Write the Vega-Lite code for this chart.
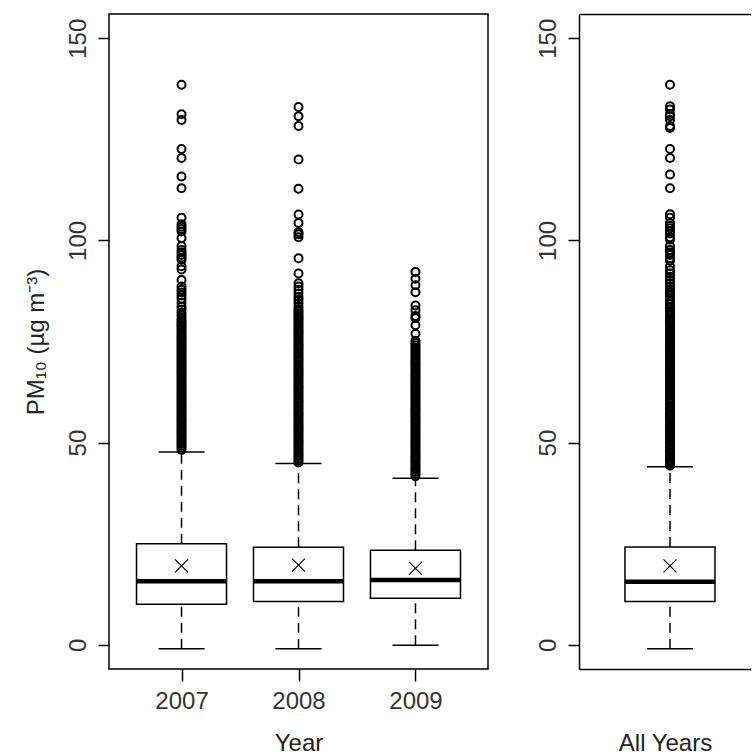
{
  "$schema": "https://vega.github.io/schema/vega-lite/v6.json",
  "padding": {"top": 13, "left": 23, "right": 0, "bottom": 0},
  "background": "white",
  "config": {
    "font": "Liberation Sans",
    "axis": {"labelFont": "Liberation Sans", "titleFont": "Liberation Sans", "labelFontSize": 24, "titleFontSize": 24, "labelColor": "#333333", "titleColor": "#222222", "titleFontWeight": "normal", "tickColor": "black", "tickWidth": 1.5, "domainColor": "black", "domainWidth": 1.5, "grid": false},
    "view": {"stroke": "black", "strokeWidth": 1.5},
    "concat": {"spacing": 47}
  },
  "datasets": {
    "boxes": [
      {"group": "2007", "lower": -1.0, "q1": 10.0, "median": 15.7, "q3": 25.0, "upper": 47.7, "mean": 19.5},
      {"group": "2008", "lower": -1.0, "q1": 10.7, "median": 15.7, "q3": 24.1, "upper": 44.8, "mean": 19.7},
      {"group": "2009", "lower": -0.1, "q1": 11.5, "median": 16.0, "q3": 23.4, "upper": 41.2, "mean": 18.9},
      {"group": "All Years", "lower": -1.0, "q1": 10.7, "median": 15.6, "q3": 24.2, "upper": 44.0, "mean": 19.5}
    ],
    "outliers": [
      {"group":"2007","pm10":138.5},{"group":"2007","pm10":131.2},{"group":"2007","pm10":129.8},{"group":"2007","pm10":122.6},{"group":"2007","pm10":120.4},{"group":"2007","pm10":115.8},{"group":"2007","pm10":112.9},{"group":"2007","pm10":105.6},{"group":"2007","pm10":104.0},{"group":"2007","pm10":103.4},{"group":"2007","pm10":102.8},{"group":"2007","pm10":102.2},{"group":"2007","pm10":100.6},{"group":"2007","pm10":98.6},{"group":"2007","pm10":97.6},{"group":"2007","pm10":97.0},{"group":"2007","pm10":96.4},{"group":"2007","pm10":95.8},{"group":"2007","pm10":95.2},{"group":"2007","pm10":93.6},{"group":"2007","pm10":92.8},{"group":"2007","pm10":90.2},{"group":"2007","pm10":88.6},{"group":"2007","pm10":87.8},{"group":"2007","pm10":87.1},{"group":"2007","pm10":86.4},{"group":"2007","pm10":85.6},{"group":"2007","pm10":84.6},{"group":"2007","pm10":83.6},{"group":"2007","pm10":82.9},{"group":"2007","pm10":82.1},{"group":"2007","pm10":81.4},
      {"group":"2007","pm10":80.6},{"group":"2007","pm10":80.1},{"group":"2007","pm10":79.6},{"group":"2007","pm10":79.1},{"group":"2007","pm10":78.7},{"group":"2007","pm10":78.2},{"group":"2007","pm10":77.7},{"group":"2007","pm10":77.2},{"group":"2007","pm10":76.7},{"group":"2007","pm10":76.2},{"group":"2007","pm10":75.8},{"group":"2007","pm10":75.3},{"group":"2007","pm10":74.8},{"group":"2007","pm10":74.3},{"group":"2007","pm10":73.8},{"group":"2007","pm10":73.3},{"group":"2007","pm10":72.9},{"group":"2007","pm10":72.4},{"group":"2007","pm10":71.9},{"group":"2007","pm10":71.4},{"group":"2007","pm10":70.9},{"group":"2007","pm10":70.4},{"group":"2007","pm10":70.0},{"group":"2007","pm10":69.5},{"group":"2007","pm10":69.0},{"group":"2007","pm10":68.5},{"group":"2007","pm10":68.0},{"group":"2007","pm10":67.5},{"group":"2007","pm10":67.1},{"group":"2007","pm10":66.6},{"group":"2007","pm10":66.1},{"group":"2007","pm10":65.6},{"group":"2007","pm10":65.1},{"group":"2007","pm10":64.6},{"group":"2007","pm10":64.2},{"group":"2007","pm10":63.7},{"group":"2007","pm10":63.2},{"group":"2007","pm10":62.7},{"group":"2007","pm10":62.2},{"group":"2007","pm10":61.7},{"group":"2007","pm10":61.3},{"group":"2007","pm10":60.8},{"group":"2007","pm10":60.3},{"group":"2007","pm10":59.8},{"group":"2007","pm10":59.3},{"group":"2007","pm10":58.8},{"group":"2007","pm10":58.4},{"group":"2007","pm10":57.9},{"group":"2007","pm10":57.4},{"group":"2007","pm10":56.9},{"group":"2007","pm10":56.4},{"group":"2007","pm10":55.9},{"group":"2007","pm10":55.5},{"group":"2007","pm10":55.0},{"group":"2007","pm10":54.5},{"group":"2007","pm10":54.0},{"group":"2007","pm10":53.5},{"group":"2007","pm10":53.0},{"group":"2007","pm10":52.6},{"group":"2007","pm10":52.1},{"group":"2007","pm10":51.6},{"group":"2007","pm10":51.1},{"group":"2007","pm10":50.6},{"group":"2007","pm10":50.1},{"group":"2007","pm10":49.7},{"group":"2007","pm10":49.2},{"group":"2007","pm10":48.7},{"group":"2007","pm10":48.2},
      {"group":"2008","pm10":133.0},{"group":"2008","pm10":130.7},{"group":"2008","pm10":128.3},{"group":"2008","pm10":120.0},{"group":"2008","pm10":112.8},{"group":"2008","pm10":106.4},{"group":"2008","pm10":104.3},{"group":"2008","pm10":102.0},{"group":"2008","pm10":101.5},{"group":"2008","pm10":100.8},{"group":"2008","pm10":95.6},{"group":"2008","pm10":91.8},{"group":"2008","pm10":89.4},{"group":"2008","pm10":88.6},{"group":"2008","pm10":87.8},{"group":"2008","pm10":86.9},{"group":"2008","pm10":86.0},{"group":"2008","pm10":85.3},{"group":"2008","pm10":84.5},{"group":"2008","pm10":83.7},
      {"group":"2008","pm10":83.0},{"group":"2008","pm10":82.5},{"group":"2008","pm10":82.0},{"group":"2008","pm10":81.5},{"group":"2008","pm10":81.0},{"group":"2008","pm10":80.6},{"group":"2008","pm10":80.1},{"group":"2008","pm10":79.6},{"group":"2008","pm10":79.1},{"group":"2008","pm10":78.6},{"group":"2008","pm10":78.1},{"group":"2008","pm10":77.6},{"group":"2008","pm10":77.2},{"group":"2008","pm10":76.7},{"group":"2008","pm10":76.2},{"group":"2008","pm10":75.7},{"group":"2008","pm10":75.2},{"group":"2008","pm10":74.7},{"group":"2008","pm10":74.2},{"group":"2008","pm10":73.8},{"group":"2008","pm10":73.3},{"group":"2008","pm10":72.8},{"group":"2008","pm10":72.3},{"group":"2008","pm10":71.8},{"group":"2008","pm10":71.3},{"group":"2008","pm10":70.8},{"group":"2008","pm10":70.4},{"group":"2008","pm10":69.9},{"group":"2008","pm10":69.4},{"group":"2008","pm10":68.9},{"group":"2008","pm10":68.4},{"group":"2008","pm10":67.9},{"group":"2008","pm10":67.4},{"group":"2008","pm10":67.0},{"group":"2008","pm10":66.5},{"group":"2008","pm10":66.0},{"group":"2008","pm10":65.5},{"group":"2008","pm10":65.0},{"group":"2008","pm10":64.5},{"group":"2008","pm10":64.0},{"group":"2008","pm10":63.6},{"group":"2008","pm10":63.1},{"group":"2008","pm10":62.6},{"group":"2008","pm10":62.1},{"group":"2008","pm10":61.6},{"group":"2008","pm10":61.1},{"group":"2008","pm10":60.6},{"group":"2008","pm10":60.2},{"group":"2008","pm10":59.7},{"group":"2008","pm10":59.2},{"group":"2008","pm10":58.7},{"group":"2008","pm10":58.2},{"group":"2008","pm10":57.7},{"group":"2008","pm10":57.2},{"group":"2008","pm10":56.8},{"group":"2008","pm10":56.3},{"group":"2008","pm10":55.8},{"group":"2008","pm10":55.3},{"group":"2008","pm10":54.8},{"group":"2008","pm10":54.3},{"group":"2008","pm10":53.8},{"group":"2008","pm10":53.4},{"group":"2008","pm10":52.9},{"group":"2008","pm10":52.4},{"group":"2008","pm10":51.9},{"group":"2008","pm10":51.4},{"group":"2008","pm10":50.9},{"group":"2008","pm10":50.4},{"group":"2008","pm10":50.0},{"group":"2008","pm10":49.5},{"group":"2008","pm10":49.0},{"group":"2008","pm10":48.5},{"group":"2008","pm10":48.0},{"group":"2008","pm10":47.5},{"group":"2008","pm10":47.0},{"group":"2008","pm10":46.6},{"group":"2008","pm10":46.1},{"group":"2008","pm10":45.6},{"group":"2008","pm10":45.1},
      {"group":"2009","pm10":92.2},{"group":"2009","pm10":90.5},{"group":"2009","pm10":88.9},{"group":"2009","pm10":87.2},{"group":"2009","pm10":83.9},{"group":"2009","pm10":82.7},{"group":"2009","pm10":81.3},{"group":"2009","pm10":80.8},{"group":"2009","pm10":79.0},{"group":"2009","pm10":76.9},{"group":"2009","pm10":75.2},
      {"group":"2009","pm10":74.6},{"group":"2009","pm10":74.1},{"group":"2009","pm10":73.6},{"group":"2009","pm10":73.1},{"group":"2009","pm10":72.6},{"group":"2009","pm10":72.2},{"group":"2009","pm10":71.7},{"group":"2009","pm10":71.2},{"group":"2009","pm10":70.7},{"group":"2009","pm10":70.2},{"group":"2009","pm10":69.7},{"group":"2009","pm10":69.3},{"group":"2009","pm10":68.8},{"group":"2009","pm10":68.3},{"group":"2009","pm10":67.8},{"group":"2009","pm10":67.3},{"group":"2009","pm10":66.8},{"group":"2009","pm10":66.4},{"group":"2009","pm10":65.9},{"group":"2009","pm10":65.4},{"group":"2009","pm10":64.9},{"group":"2009","pm10":64.4},{"group":"2009","pm10":63.9},{"group":"2009","pm10":63.5},{"group":"2009","pm10":63.0},{"group":"2009","pm10":62.5},{"group":"2009","pm10":62.0},{"group":"2009","pm10":61.5},{"group":"2009","pm10":61.0},{"group":"2009","pm10":60.6},{"group":"2009","pm10":60.1},{"group":"2009","pm10":59.6},{"group":"2009","pm10":59.1},{"group":"2009","pm10":58.6},{"group":"2009","pm10":58.1},{"group":"2009","pm10":57.7},{"group":"2009","pm10":57.2},{"group":"2009","pm10":56.7},{"group":"2009","pm10":56.2},{"group":"2009","pm10":55.7},{"group":"2009","pm10":55.2},{"group":"2009","pm10":54.8},{"group":"2009","pm10":54.3},{"group":"2009","pm10":53.8},{"group":"2009","pm10":53.3},{"group":"2009","pm10":52.8},{"group":"2009","pm10":52.3},{"group":"2009","pm10":51.9},{"group":"2009","pm10":51.4},{"group":"2009","pm10":50.9},{"group":"2009","pm10":50.4},{"group":"2009","pm10":49.9},{"group":"2009","pm10":49.4},{"group":"2009","pm10":49.0},{"group":"2009","pm10":48.5},{"group":"2009","pm10":48.0},{"group":"2009","pm10":47.5},{"group":"2009","pm10":47.0},{"group":"2009","pm10":46.5},{"group":"2009","pm10":46.1},{"group":"2009","pm10":45.6},{"group":"2009","pm10":45.1},{"group":"2009","pm10":44.6},{"group":"2009","pm10":44.1},{"group":"2009","pm10":43.6},{"group":"2009","pm10":43.2},{"group":"2009","pm10":42.7},{"group":"2009","pm10":42.2},{"group":"2009","pm10":41.7},
      {"group":"All Years","pm10":138.5},{"group":"All Years","pm10":133.2},{"group":"All Years","pm10":132.4},{"group":"All Years","pm10":131.2},{"group":"All Years","pm10":130.7},{"group":"All Years","pm10":129.8},{"group":"All Years","pm10":128.3},{"group":"All Years","pm10":127.8},{"group":"All Years","pm10":122.6},{"group":"All Years","pm10":120.4},{"group":"All Years","pm10":116.3},{"group":"All Years","pm10":112.9},{"group":"All Years","pm10":106.5},{"group":"All Years","pm10":105.6},{"group":"All Years","pm10":104.3},{"group":"All Years","pm10":103.6},{"group":"All Years","pm10":103.0},{"group":"All Years","pm10":102.3},{"group":"All Years","pm10":101.7},{"group":"All Years","pm10":100.8},{"group":"All Years","pm10":100.2},{"group":"All Years","pm10":98.6},{"group":"All Years","pm10":97.6},{"group":"All Years","pm10":97.0},{"group":"All Years","pm10":96.4},{"group":"All Years","pm10":95.6},{"group":"All Years","pm10":95.0},{"group":"All Years","pm10":93.6},{"group":"All Years","pm10":92.6},{"group":"All Years","pm10":91.8},{"group":"All Years","pm10":91.0},{"group":"All Years","pm10":90.2},{"group":"All Years","pm10":89.4},{"group":"All Years","pm10":88.6},{"group":"All Years","pm10":87.8},{"group":"All Years","pm10":87.1},{"group":"All Years","pm10":86.4},{"group":"All Years","pm10":85.6},{"group":"All Years","pm10":84.9},{"group":"All Years","pm10":84.2},{"group":"All Years","pm10":83.5},
      {"group":"All Years","pm10":82.9},{"group":"All Years","pm10":82.4},{"group":"All Years","pm10":81.9},{"group":"All Years","pm10":81.4},{"group":"All Years","pm10":80.9},{"group":"All Years","pm10":80.4},{"group":"All Years","pm10":80.0},{"group":"All Years","pm10":79.5},{"group":"All Years","pm10":79.0},{"group":"All Years","pm10":78.5},{"group":"All Years","pm10":78.0},{"group":"All Years","pm10":77.5},{"group":"All Years","pm10":77.1},{"group":"All Years","pm10":76.6},{"group":"All Years","pm10":76.1},{"group":"All Years","pm10":75.6},{"group":"All Years","pm10":75.1},{"group":"All Years","pm10":74.6},{"group":"All Years","pm10":74.2},{"group":"All Years","pm10":73.7},{"group":"All Years","pm10":73.2},{"group":"All Years","pm10":72.7},{"group":"All Years","pm10":72.2},{"group":"All Years","pm10":71.7},{"group":"All Years","pm10":71.3},{"group":"All Years","pm10":70.8},{"group":"All Years","pm10":70.3},{"group":"All Years","pm10":69.8},{"group":"All Years","pm10":69.3},{"group":"All Years","pm10":68.8},{"group":"All Years","pm10":68.4},{"group":"All Years","pm10":67.9},{"group":"All Years","pm10":67.4},{"group":"All Years","pm10":66.9},{"group":"All Years","pm10":66.4},{"group":"All Years","pm10":65.9},{"group":"All Years","pm10":65.5},{"group":"All Years","pm10":65.0},{"group":"All Years","pm10":64.5},{"group":"All Years","pm10":64.0},{"group":"All Years","pm10":63.5},{"group":"All Years","pm10":63.0},{"group":"All Years","pm10":62.6},{"group":"All Years","pm10":62.1},{"group":"All Years","pm10":61.6},{"group":"All Years","pm10":61.1},{"group":"All Years","pm10":60.6},{"group":"All Years","pm10":60.1},{"group":"All Years","pm10":59.7},{"group":"All Years","pm10":59.2},{"group":"All Years","pm10":58.7},{"group":"All Years","pm10":58.2},{"group":"All Years","pm10":57.7},{"group":"All Years","pm10":57.2},{"group":"All Years","pm10":56.8},{"group":"All Years","pm10":56.3},{"group":"All Years","pm10":55.8},{"group":"All Years","pm10":55.3},{"group":"All Years","pm10":54.8},{"group":"All Years","pm10":54.3},{"group":"All Years","pm10":53.9},{"group":"All Years","pm10":53.4},{"group":"All Years","pm10":52.9},{"group":"All Years","pm10":52.4},{"group":"All Years","pm10":51.9},{"group":"All Years","pm10":51.4},{"group":"All Years","pm10":51.0},{"group":"All Years","pm10":50.5},{"group":"All Years","pm10":50.0},{"group":"All Years","pm10":49.5},{"group":"All Years","pm10":49.0},{"group":"All Years","pm10":48.5},{"group":"All Years","pm10":48.1},{"group":"All Years","pm10":47.6},{"group":"All Years","pm10":47.1},{"group":"All Years","pm10":46.6},{"group":"All Years","pm10":46.1},{"group":"All Years","pm10":45.6},{"group":"All Years","pm10":45.2},{"group":"All Years","pm10":44.7},{"group":"All Years","pm10":44.3}
    ]
  },
  "hconcat": [
    {
      "width": 379,
      "height": 655,
      "data": {"name": "boxes"},
      "transform": [{"filter": "datum.group !== 'All Years'"}],
      "encoding": {
        "x": {"field": "group", "type": "nominal", "scale": {"type": "point", "domain": ["2007", "2008", "2009"], "padding": 0.62},
              "axis": {"title": "Year", "labelAngle": 0, "domain": false, "tickSize": 12, "labelPadding": 8, "titleY": 62, "titleBaseline": "top"}}
      },
      "layer": [
        {"mark": {"type": "rule", "strokeDash": [10, 6], "strokeWidth": 1.5, "color": "black"},
         "encoding": {"y": {"field": "q3", "type": "quantitative", "scale": {"domain": [-6, 156], "nice": false, "zero": false},
                            "axis": {"title": "PM₁₀ (µg m⁻³)", "values": [0, 50, 100, 150], "labelAngle": -90, "labelAlign": "center", "labelBaseline": "bottom", "labelPadding": 8, "tickSize": 11, "domain": false, "titlePadding": 18}},
                      "y2": {"field": "upper"}}},
        {"mark": {"type": "rule", "strokeDash": [10, 6], "strokeWidth": 1.5, "color": "black"},
         "encoding": {"y": {"field": "lower", "type": "quantitative", "scale": {"domain": [-6, 156], "nice": false, "zero": false}}, "y2": {"field": "q1"}}},
        {"mark": {"type": "bar", "size": 90, "fill": "white", "stroke": "black", "strokeWidth": 1.5},
         "encoding": {"y": {"field": "q1", "type": "quantitative", "scale": {"domain": [-6, 156], "nice": false, "zero": false}}, "y2": {"field": "q3"}}},
        {"mark": {"type": "tick", "size": 90, "thickness": 4.5, "color": "black", "opacity": 1},
         "encoding": {"y": {"field": "median", "type": "quantitative", "scale": {"domain": [-6, 156], "nice": false, "zero": false}}}},
        {"mark": {"type": "tick", "size": 46, "thickness": 1.5, "color": "black", "opacity": 1},
         "encoding": {"y": {"field": "upper", "type": "quantitative", "scale": {"domain": [-6, 156], "nice": false, "zero": false}}}},
        {"mark": {"type": "tick", "size": 46, "thickness": 1.5, "color": "black", "opacity": 1},
         "encoding": {"y": {"field": "lower", "type": "quantitative", "scale": {"domain": [-6, 156], "nice": false, "zero": false}}}},
        {"mark": {"type": "point", "shape": "M-1,-1L1,1M-1,1L1,-1", "size": 169, "filled": false, "stroke": "black", "strokeWidth": 1.2, "opacity": 1},
         "encoding": {"y": {"field": "mean", "type": "quantitative", "scale": {"domain": [-6, 156], "nice": false, "zero": false}}}},
        {"data": {"name": "outliers"},
         "transform": [{"filter": "datum.group !== 'All Years'"}],
         "mark": {"type": "point", "shape": "circle", "size": 64, "filled": false, "stroke": "black", "strokeWidth": 2, "opacity": 1},
         "encoding": {"y": {"field": "pm10", "type": "quantitative", "scale": {"domain": [-6, 156], "nice": false, "zero": false}}}}
      ]
    },
    {
      "width": 172,
      "height": 655,
      "view": {"stroke": null},
      "data": {"name": "boxes"},
      "transform": [{"filter": "datum.group === 'All Years'"}],
      "encoding": {
        "x": {"field": "group", "type": "nominal", "scale": {"type": "point", "domain": ["All Years"], "padding": 0.5, "align": 0.529}, "axis": null}
      },
      "layer": [
        {"mark": {"type": "rule", "strokeDash": [10, 6], "strokeWidth": 1.5, "color": "black"},
         "encoding": {
           "x": {"field": "group", "type": "nominal", "scale": {"type": "point", "domain": ["All Years"], "padding": 0.5, "align": 0.529},
                 "axis": {"orient": "bottom", "title": "All Years", "labels": false, "ticks": false, "domain": true, "titleY": 62, "titleBaseline": "top"}},
           "y": {"field": "q3", "type": "quantitative", "scale": {"domain": [-6, 156], "nice": false, "zero": false},
                 "axis": {"title": null, "values": [0, 50, 100, 150], "labelAngle": -90, "labelAlign": "center", "labelBaseline": "bottom", "labelPadding": 8, "tickSize": 11, "domain": true}},
           "y2": {"field": "upper"}}},
        {"mark": {"type": "rule", "strokeDash": [10, 6], "strokeWidth": 1.5, "color": "black"},
         "encoding": {
           "x": {"field": "group", "type": "nominal", "scale": {"type": "point", "domain": ["All Years"], "padding": 0.5, "align": 0.529},
                 "axis": {"orient": "top", "title": null, "labels": false, "ticks": false, "domain": true}},
           "y": {"field": "lower", "type": "quantitative", "scale": {"domain": [-6, 156], "nice": false, "zero": false}}, "y2": {"field": "q1"}}},
        {"mark": {"type": "bar", "size": 90, "fill": "white", "stroke": "black", "strokeWidth": 1.5},
         "encoding": {"y": {"field": "q1", "type": "quantitative", "scale": {"domain": [-6, 156], "nice": false, "zero": false}}, "y2": {"field": "q3"}}},
        {"mark": {"type": "tick", "size": 90, "thickness": 4.5, "color": "black", "opacity": 1},
         "encoding": {"y": {"field": "median", "type": "quantitative", "scale": {"domain": [-6, 156], "nice": false, "zero": false}}}},
        {"mark": {"type": "tick", "size": 46, "thickness": 1.5, "color": "black", "opacity": 1},
         "encoding": {"y": {"field": "upper", "type": "quantitative", "scale": {"domain": [-6, 156], "nice": false, "zero": false}}}},
        {"mark": {"type": "tick", "size": 46, "thickness": 1.5, "color": "black", "opacity": 1},
         "encoding": {"y": {"field": "lower", "type": "quantitative", "scale": {"domain": [-6, 156], "nice": false, "zero": false}}}},
        {"mark": {"type": "point", "shape": "M-1,-1L1,1M-1,1L1,-1", "size": 169, "filled": false, "stroke": "black", "strokeWidth": 1.2, "opacity": 1},
         "encoding": {"y": {"field": "mean", "type": "quantitative", "scale": {"domain": [-6, 156], "nice": false, "zero": false}}}},
        {"data": {"name": "outliers"},
         "transform": [{"filter": "datum.group === 'All Years'"}],
         "mark": {"type": "point", "shape": "circle", "size": 64, "filled": false, "stroke": "black", "strokeWidth": 2, "opacity": 1},
         "encoding": {"y": {"field": "pm10", "type": "quantitative", "scale": {"domain": [-6, 156], "nice": false, "zero": false}}}}
      ],
      "resolve": {"axis": {"x": "independent"}}
    }
  ]
}
